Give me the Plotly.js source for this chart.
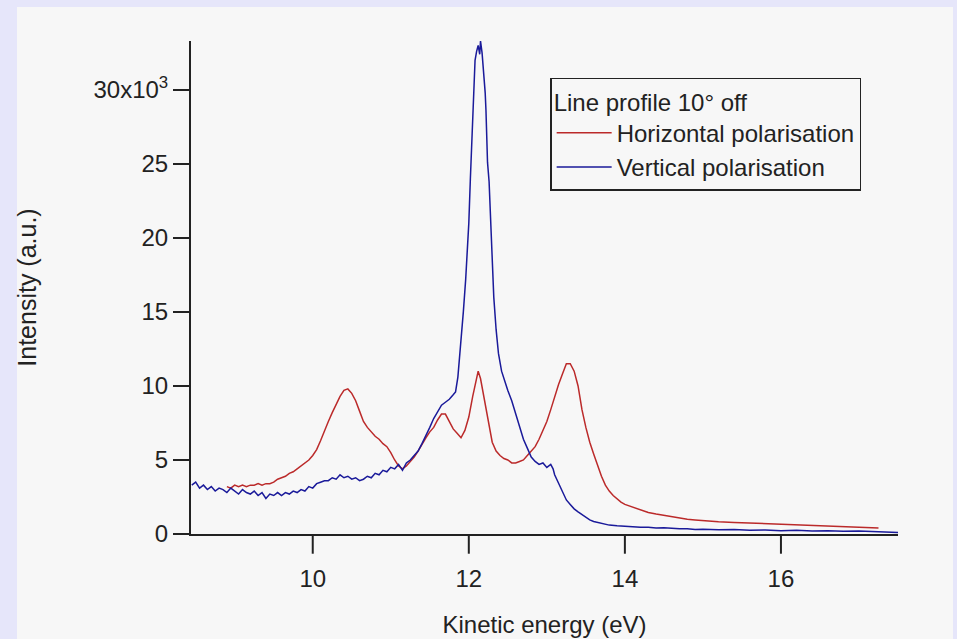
<!DOCTYPE html>
<html>
<head>
<meta charset="utf-8">
<script src="https://cdn.plot.ly/plotly-3.0.1.min.js"></script>
<style>
  html, body { margin: 0; padding: 0; background: #e6e6fa; }
  #chart { width: 957px; height: 639px; }
</style>
</head>
<body>
<div id="chart"></div>
<script>
// Kinetic energy (eV) and intensity (units of 10^3 counts) for the two polarisations

const energyVertical = [
  8.45, 8.50, 8.55, 8.60, 8.65, 8.70, 8.75, 8.80, 8.85, 8.90, 8.95, 9.00, 9.05, 9.10, 9.15,
  9.20, 9.25, 9.30, 9.35, 9.40, 9.45, 9.50, 9.55, 9.60, 9.65, 9.70, 9.75, 9.80, 9.85, 9.90,
  9.95, 10.00, 10.05, 10.10, 10.15, 10.20, 10.25, 10.30, 10.35, 10.40, 10.45, 10.50, 10.55,
  10.60, 10.65, 10.70, 10.75, 10.80, 10.85, 10.90, 10.95, 11.00, 11.05, 11.10, 11.15, 11.20,
  11.25, 11.30, 11.35, 11.40, 11.45, 11.50, 11.55, 11.60, 11.65, 11.70, 11.75, 11.80, 11.83,
  11.86, 11.88, 11.90, 11.93, 11.96, 11.98, 12.00, 12.02, 12.04, 12.06, 12.08, 12.10, 12.12,
  12.14, 12.15, 12.17, 12.19, 12.21, 12.22, 12.24, 12.26, 12.28, 12.30, 12.32, 12.35, 12.38,
  12.42, 12.46, 12.50, 12.55, 12.60, 12.65, 12.70, 12.75, 12.80, 12.85, 12.90, 12.95, 13.00,
  13.05, 13.08, 13.10, 13.15, 13.20, 13.25, 13.30, 13.35, 13.40, 13.45, 13.50, 13.55, 13.60,
  13.70, 13.80, 13.90, 14.00, 14.10, 14.20, 14.30, 14.40, 14.50, 14.60, 14.70, 14.80, 14.90,
  15.00, 15.20, 15.40, 15.60, 15.80, 16.00, 16.20, 16.40, 16.60, 16.80, 17.00, 17.20, 17.40, 17.50
];
const intensityVertical = [
  3.3, 3.5, 3.1, 3.3, 3.0, 3.2, 2.9, 3.1, 3.0, 2.8, 3.1, 2.9, 2.7, 3.0, 2.8,
  2.7, 2.9, 2.6, 2.8, 2.4, 2.7, 2.6, 2.8, 2.6, 2.8, 2.7, 2.9, 2.8, 3.0, 2.9,
  3.2, 3.1, 3.4, 3.5, 3.6, 3.6, 3.8, 3.7, 4.0, 3.8, 3.9, 3.7, 3.8,
  3.6, 3.7, 3.9, 3.8, 4.1, 4.0, 4.3, 4.2, 4.5, 4.4, 4.7, 4.3, 4.8,
  5.0, 5.3, 5.6, 6.1, 6.6, 7.2, 7.8, 8.3, 8.7, 8.9, 9.1, 9.4, 9.6,
  10.6, 11.8, 13.2, 15.0, 17.2, 19.0, 21.0, 24.0, 27.0, 29.5, 32.0, 32.6, 33.0,
  32.4, 33.3, 32.5, 31.4, 29.8, 28.6, 25.1, 23.8, 21.2, 18.3, 16.0, 13.8, 12.2,
  11.0, 10.3, 9.7, 9.0, 8.1, 7.2, 6.4, 5.8, 5.2, 4.9, 4.7, 4.8, 4.5,
  4.7, 4.4, 4.0, 3.4, 2.8, 2.3, 2.0, 1.7, 1.5, 1.3, 1.1, 0.95, 0.85,
  0.7, 0.6, 0.55, 0.5, 0.5, 0.45, 0.45, 0.4, 0.42, 0.38, 0.35, 0.36, 0.3,
  0.32, 0.28, 0.3, 0.25, 0.27, 0.22, 0.25, 0.2, 0.22, 0.18, 0.2, 0.15, 0.12, 0.1
];

const energyHorizontal = [
  8.90, 8.95, 9.00, 9.05, 9.10, 9.15, 9.20, 9.25, 9.30, 9.35, 9.40, 9.45, 9.50, 9.55, 9.60,
  9.65, 9.70, 9.75, 9.80, 9.85, 9.90, 9.95, 10.00, 10.05, 10.10, 10.15, 10.20, 10.25, 10.30,
  10.35, 10.40, 10.45, 10.50, 10.55, 10.60, 10.65, 10.70, 10.75, 10.80, 10.85, 10.90, 10.95,
  11.00, 11.05, 11.10, 11.15, 11.20, 11.25, 11.30, 11.35, 11.40, 11.45, 11.50, 11.55, 11.60,
  11.65, 11.70, 11.75, 11.80, 11.85, 11.90, 11.95, 12.00, 12.05, 12.10, 12.12, 12.15, 12.20,
  12.25, 12.30, 12.35, 12.40, 12.45, 12.50, 12.55, 12.60, 12.65, 12.70, 12.75, 12.80, 12.85,
  12.90, 12.95, 13.00, 13.05, 13.10, 13.15, 13.20, 13.25, 13.30, 13.35, 13.40, 13.45, 13.50,
  13.55, 13.60, 13.65, 13.70, 13.75, 13.80, 13.85, 13.90, 13.95, 14.00, 14.10, 14.20, 14.30,
  14.40, 14.50, 14.60, 14.70, 14.80, 14.90, 15.00, 15.20, 15.40, 15.60, 15.80, 16.00, 16.20,
  16.40, 16.60, 16.80, 17.00, 17.25
];
const intensityHorizontal = [
  3.2, 3.1, 3.3, 3.2, 3.3, 3.2, 3.3, 3.3, 3.4, 3.3, 3.4, 3.4, 3.5, 3.7, 3.8,
  3.9, 4.1, 4.2, 4.4, 4.6, 4.8, 5.0, 5.3, 5.7, 6.3, 7.0, 7.6, 8.2, 8.8,
  9.3, 9.7, 9.8, 9.5, 9.0, 8.3, 7.6, 7.2, 6.9, 6.6, 6.4, 6.1, 5.9,
  5.5, 5.0, 4.6, 4.4, 4.6, 4.9, 5.2, 5.6, 6.1, 6.5, 6.9, 7.2, 7.7,
  8.1, 8.1, 7.6, 7.1, 6.8, 6.5, 7.0, 7.9, 9.3, 10.6, 11.0, 10.5, 9.0,
  7.6, 6.2, 5.6, 5.3, 5.1, 5.0, 4.8, 4.8, 4.9, 5.0, 5.3, 5.6, 5.9,
  6.4, 7.0, 7.6, 8.4, 9.3, 10.1, 10.8, 11.5, 11.5, 11.0, 10.0, 8.4, 7.2,
  6.2, 5.4, 4.6, 3.9, 3.3, 2.9, 2.6, 2.35, 2.15, 2.0, 1.8, 1.6, 1.45,
  1.35, 1.25, 1.15, 1.1, 1.0, 0.95, 0.9, 0.82, 0.78, 0.74, 0.7, 0.66, 0.6,
  0.56, 0.52, 0.5, 0.46, 0.4
];

const xTickValues = [10, 12, 14, 16];
const xTickLabels = ['10', '12', '14', '16'];
const yTickValues = [0, 5, 10, 15, 20, 25, 30];
const yTickLabels = ['0', '5', '10', '15', '20', '25', '30x10<sup>3</sup>'];
const xRange = [8.44, 17.5];
const yRange = [0, 33.3];

const FONT = 'Liberation Sans, Arial, sans-serif';
const INK = '#222222';

const traces = [
  {
    x: energyHorizontal, y: intensityHorizontal,
    type: 'scatter', mode: 'lines',
    name: 'Horizontal polarisation',
    line: { color: '#bb2a2a', width: 1.5 }
  },
  {
    x: energyVertical, y: intensityVertical,
    type: 'scatter', mode: 'lines',
    name: 'Vertical polarisation',
    line: { color: '#1a1a9a', width: 1.5 }
  }
];

// long outward tick marks under the energy axis, placed at each tick value's
// fraction of the axis range (paper refs so they are not clipped to the plot)
const xTickMarks = xTickValues.map(v => {
  const f = (v - xRange[0]) / (xRange[1] - xRange[0]);
  return {
    type: 'line', xref: 'paper', yref: 'paper', layer: 'above',
    x0: f, x1: f, y0: -0.002, y1: -0.04,
    line: { color: INK, width: 2 }
  };
});

const layout = {
  width: 957, height: 639,
  margin: { l: 191, r: 59, t: 41, b: 105 },
  paper_bgcolor: '#e6e6fa',
  plot_bgcolor: 'rgba(0,0,0,0)',
  font: { family: FONT, size: 24, color: INK },
  showlegend: true,
  shapes: [
    // light grey panel behind the graph
    { type: 'rect', xref: 'paper', yref: 'paper', layer: 'below',
      x0: -0.2461, x1: 1.0778, y0: -0.22, y1: 1.0690,
      fillcolor: '#f7f7f7', line: { width: 0 } }
  ].concat(xTickMarks),
  xaxis: {
    range: xRange,
    tickmode: 'array', tickvals: xTickValues, ticktext: xTickLabels,
    ticks: '', ticklabelstandoff: 22,
    showline: true, linecolor: INK, linewidth: 2,
    showgrid: false, zeroline: false,
    tickfont: { family: FONT, size: 24, color: INK },
    title: { text: 'Kinetic energy (eV)', standoff: 25,
             font: { family: FONT, size: 24, color: INK } }
  },
  yaxis: {
    range: yRange,
    tickmode: 'array', tickvals: yTickValues, ticktext: yTickLabels,
    ticks: 'outside', ticklen: 16, tickwidth: 2, tickcolor: INK,
    showline: true, linecolor: INK, linewidth: 2,
    showgrid: false, zeroline: false,
    tickfont: { family: FONT, size: 24, color: INK },
    title: { text: 'Intensity (a.u.)', standoff: 50,
             font: { family: FONT, size: 25, color: INK } }
  },
  legend: {
    x: 0.508, y: 0.925, xanchor: 'left', yanchor: 'top',
    bgcolor: '#f7f7f7', bordercolor: INK, borderwidth: 1.5,
    font: { family: FONT, size: 24, color: INK },
    title: { text: 'Line profile 10° off', side: 'top',
             font: { family: FONT, size: 24, color: INK } },
    tracegroupgap: 0, itemwidth: 55
  }
};

Plotly.newPlot('chart', traces, layout, { displayModeBar: false, staticPlot: true });
</script>
</body>
</html>
